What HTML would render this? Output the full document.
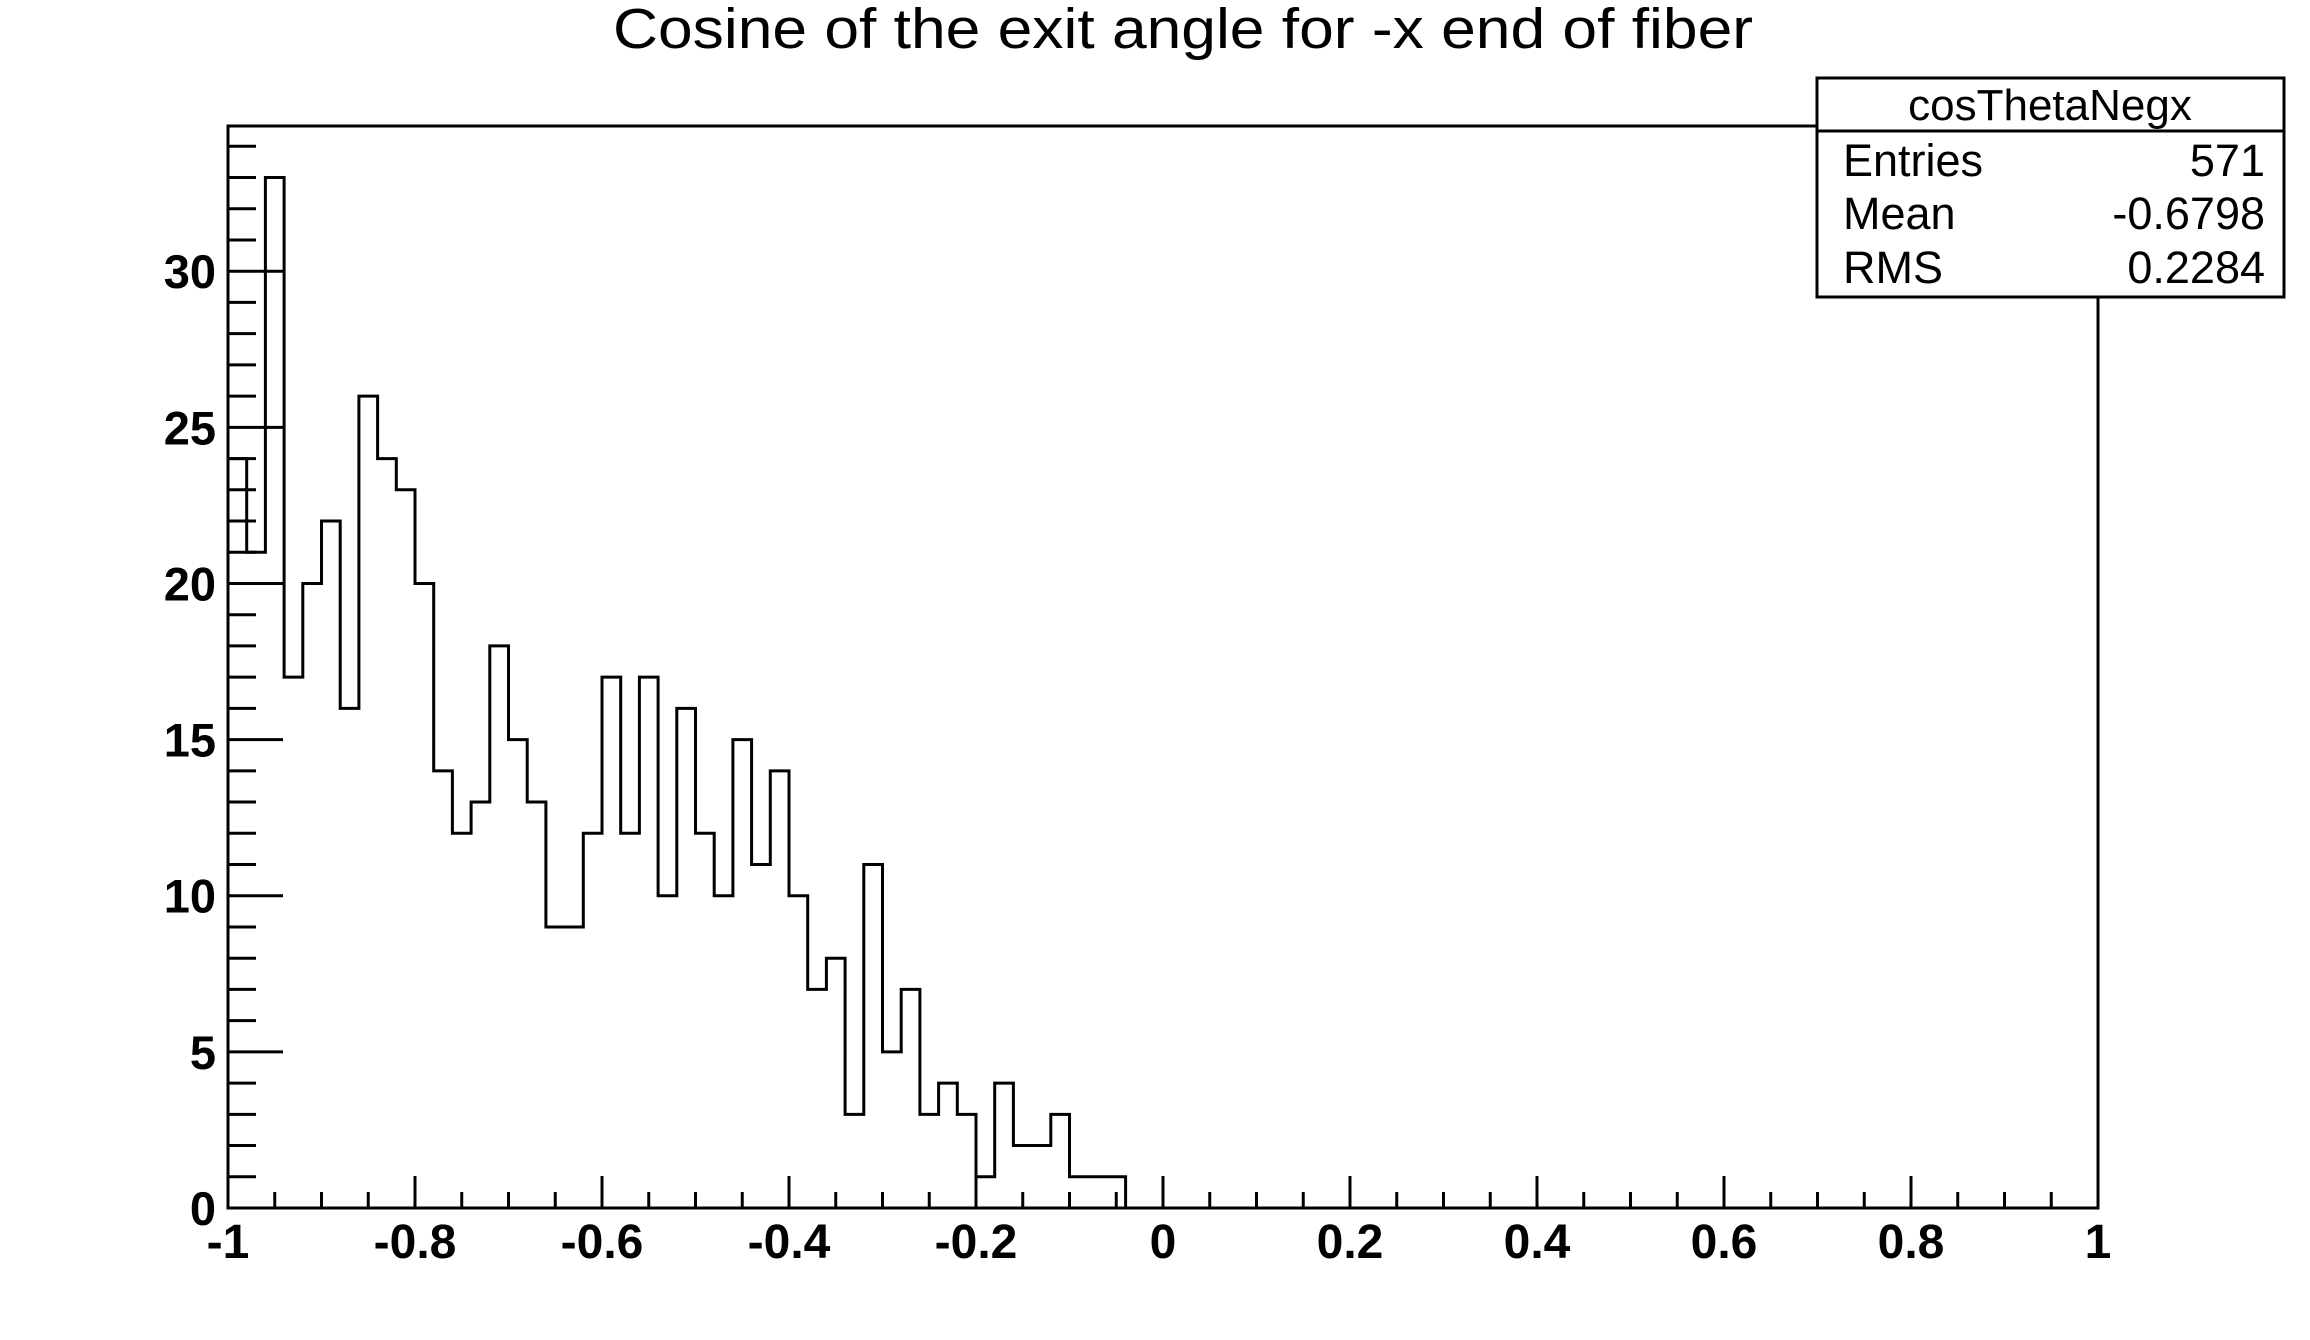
<!DOCTYPE html>
<html><head><meta charset="utf-8"><style>
html,body{margin:0;padding:0;background:#fff;}
svg{display:block;font-family:"Liberation Sans",Arial,sans-serif;}
</style></head><body>
<svg id="chart" width="2310" height="1340" viewBox="0 0 2310 1340" xmlns="http://www.w3.org/2000/svg">
<rect width="2310" height="1340" fill="#fff"/>
<text x="1183" y="48" font-size="57" text-anchor="middle" textLength="1140" lengthAdjust="spacingAndGlyphs">Cosine of the exit angle for -x end of fiber</text>
<g id="axes"></g>
<path id="hist" fill="none" stroke="#000" stroke-width="3"/>
<g>
<rect x="1817" y="78" width="467" height="219" fill="#fff" stroke="#000" stroke-width="3"/>
<line x1="1817" y1="131" x2="2284" y2="131" stroke="#000" stroke-width="3"/>
<text x="2050" y="120" font-size="44" text-anchor="middle">cosThetaNegx</text>
<text x="1843" y="176" font-size="45">Entries</text>
<text x="2265" y="176" font-size="45" text-anchor="end">571</text>
<text x="1843" y="229" font-size="45">Mean</text>
<text x="2265" y="229" font-size="45" text-anchor="end">-0.6798</text>
<text x="1843" y="283" font-size="45">RMS</text>
<text x="2265" y="283" font-size="45" text-anchor="end">0.2284</text>
</g>
</svg>
<script>
const binCounts = [24,21,33,17,20,22,16,26,24,23,
20,14,12,13,18,15,13,9,9,12,
17,12,17,10,16,12,10,15,11,14,
10,7,8,3,11,5,7,3,4,3,
1,4,2,2,3,1,1,1];
const xMin = -1, xMax = 1, nBins = 100;
const yMax = 34.65;
const xTickValues = [-1,-0.8,-0.6,-0.4,-0.2,0,0.2,0.4,0.6,0.8,1];
const xTickLabels = ["-1","-0.8","-0.6","-0.4","-0.2","0","0.2","0.4","0.6","0.8","1"];
const yTickValues = [0,5,10,15,20,25,30];
const yTickLabels = ["0","5","10","15","20","25","30"];

const L=228,R=2098,T=126,B=1208;
const sx = v => L + (v - xMin) / (xMax - xMin) * (R - L);
const sy = v => B - v / yMax * (B - T);
const NS="http://www.w3.org/2000/svg";
const axes=document.getElementById('axes');
function line(x1,y1,x2,y2,name){
  const l=document.createElementNS(NS,'line');
  l.setAttribute('x1',x1);l.setAttribute('y1',y1);l.setAttribute('x2',x2);l.setAttribute('y2',y2);
  l.setAttribute('stroke','#000');l.setAttribute('stroke-width','3');
  
  
  axes.appendChild(l);
}
const fr=document.createElementNS(NS,'rect');
fr.setAttribute('x',L);fr.setAttribute('y',T);fr.setAttribute('width',R-L);fr.setAttribute('height',B-T);
fr.setAttribute('fill','none');fr.setAttribute('stroke','#000');fr.setAttribute('stroke-width','3');


axes.appendChild(fr);
for(let i=0;i<xTickValues.length;i++){
  const x=sx(xTickValues[i]);
  line(x,B,x,B-32,'x-major-tick');
  const t=document.createElementNS(NS,'text');
  t.setAttribute('x',x);t.setAttribute('y',1258);t.setAttribute('font-size','48');t.setAttribute('font-weight','bold');
  t.setAttribute('text-anchor','middle');t.textContent=xTickLabels[i];
  
  
  axes.appendChild(t);
  if(i<xTickValues.length-1){
    const step=(xTickValues[i+1]-xTickValues[i])/4;
    for(let k=1;k<4;k++){const xm=sx(xTickValues[i]+k*step);line(xm,B,xm,B-16,'x-minor-tick');}
  }
}
for(let v=0;v<=Math.floor(yMax);v++){
  const y=sy(v);
  if(v%5===0) line(L,y,L+55,y,'y-major-tick'); else line(L,y,L+28,y,'y-minor-tick');
}
for(let i=0;i<yTickValues.length;i++){
  const t=document.createElementNS(NS,'text');
  t.setAttribute('x',216);t.setAttribute('y',sy(yTickValues[i])+17);t.setAttribute('font-size','47');t.setAttribute('font-weight','bold');
  t.setAttribute('text-anchor','end');t.textContent=yTickLabels[i];
  
  
  axes.appendChild(t);
}
const bw=(xMax-xMin)/nBins;
let d='M'+sx(xMin)+','+sy(0);
for(let i=0;i<binCounts.length;i++){
  const x0=sx(xMin+i*bw),x1=sx(xMin+(i+1)*bw),y=sy(binCounts[i]);
  d+=' L'+x0+','+y+' L'+x1+','+y;
}
d+=' L'+sx(xMin+binCounts.length*bw)+','+sy(0);
document.getElementById('hist').setAttribute('d',d);
</script>
</body></html>
